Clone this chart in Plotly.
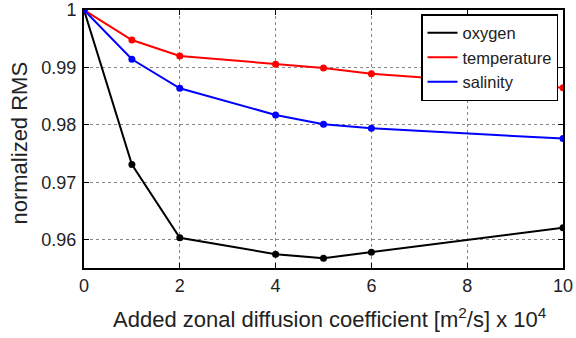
import plotly.graph_objects as go

x_vals = [0, 1, 2, 4, 5, 6, 10]
oxygen = [1.0, 0.9731, 0.96035, 0.95751, 0.95681, 0.95786, 0.96209]
temperature = [1.0, 0.99478, 0.9920, 0.99056, 0.98991, 0.98892, 0.98649]
salinity = [1.0, 0.99143, 0.98638, 0.98174, 0.98012, 0.97942, 0.97762]

x_ticks = [0, 2, 4, 6, 8, 10]
y_ticks = [0.96, 0.97, 0.98, 0.99, 1.0]
y_tick_text = ["0.96", "0.97", "0.98", "0.99", "1"]

series = [("oxygen", oxygen, "#000000"),
          ("temperature", temperature, "#ff0000"),
          ("salinity", salinity, "#0000ff")]

fig = go.Figure()
for name, ys, col in series:
    fig.add_trace(go.Scatter(x=x_vals, y=ys, name=name, mode="lines+markers",
                             line=dict(color=col, width=2),
                             marker=dict(color=col, size=7), showlegend=False))
# legend entries show only line samples
for name, ys, col in series:
    fig.add_trace(go.Scatter(x=[None], y=[None], name=name, mode="lines",
                             line=dict(color=col, width=2)))

font = "Liberation Sans, Arial, Helvetica, sans-serif"
axis_common = dict(showline=True, linecolor="black", linewidth=2, mirror="ticks",
                   ticks="inside", ticklen=5, tickcolor="black", automargin=False,
                   showgrid=True, gridcolor="#888888", griddash="dot", gridwidth=1,
                   zeroline=False, tickfont=dict(size=18, color="#222222", family=font))

fig.update_layout(
    width=576, height=338,
    margin=dict(l=84, r=13, t=10, b=70),
    paper_bgcolor="white", plot_bgcolor="white",
    font=dict(family=font, color="#222222"),
    xaxis=dict(range=[0, 10], tickvals=x_ticks, **axis_common),
    yaxis=dict(range=[0.9551, 1.0], tickvals=y_ticks, ticktext=y_tick_text,
               ticklabelstandoff=2, **axis_common),
    legend=dict(x=(558 - 84) / 479, y=(268 - 14) / 258, xanchor="right", yanchor="top",
                bgcolor="white", bordercolor="black", borderwidth=1.5,
                font=dict(size=16.5, color="#222222"), tracegroupgap=0,
                itemwidth=30),
    showlegend=True,
    annotations=[
        dict(text="Added zonal diffusion coefficient [m<sup>2</sup>/s] x 10<sup>4</sup>",
             xref="paper", yref="paper", x=(330 - 84) / 479, y=(268 - 318) / 258,
             xanchor="center", yanchor="middle", showarrow=False,
             font=dict(size=22, color="#222222")),
        dict(text="normalized RMS", xref="paper", yref="paper",
             x=(19 - 84) / 479, y=(268 - 143.5) / 258, xanchor="center", yanchor="middle",
             textangle=-90, showarrow=False, font=dict(size=22, color="#222222")),
    ],
)

fig.write_html("out.html", post_script="document.body.style.margin='0';",
               config={"displayModeBar": False})
